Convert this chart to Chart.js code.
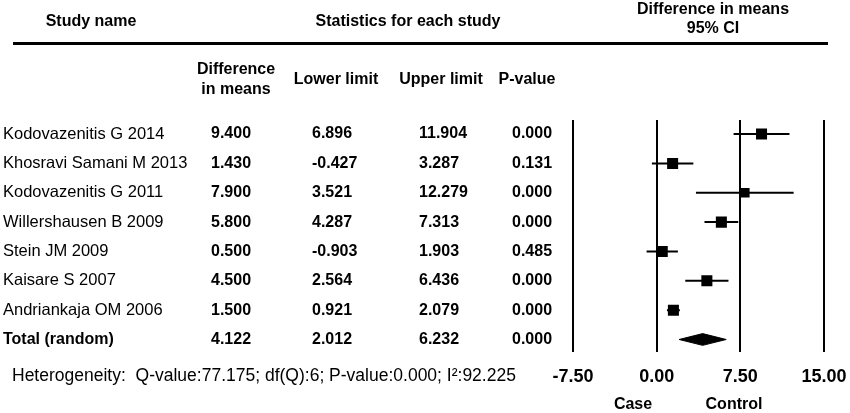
<!DOCTYPE html>
<html>
<head>
<meta charset="utf-8">
<script src="https://cdn.jsdelivr.net/npm/chart.js@4.4.1/dist/chart.umd.min.js"></script>
<style>
  html, body { margin: 0; padding: 0; background: #fff; }
</style>
</head>
<body>
<canvas id="forestChart" width="850" height="413"></canvas>
<script>
const studyNames = [
    "Kodovazenitis G 2014",
    "Khosravi Samani M 2013",
    "Kodovazenitis G 2011",
    "Willershausen B 2009",
    "Stein JM 2009",
    "Kaisare S 2007",
    "Andriankaja OM 2006"
];
const diffMeans = [9.400, 1.430, 7.900, 5.800, 0.500, 4.500, 1.500];
const lowerLimits = [6.896, -0.427, 3.521, 4.287, -0.903, 2.564, 0.921];
const upperLimits = [11.904, 3.287, 12.279, 7.313, 1.903, 6.436, 2.079];
const pValues = ["0.000", "0.131", "0.000", "0.000", "0.485", "0.000", "0.000"];

const totalName = "Total (random)";
const totalStats = [4.122, 2.012, 6.232];   // mean, lower, upper
const totalP = "0.000";

const xTicks = [-7.5, 0, 7.5, 15];
const heterogeneity = "Heterogeneity:  Q-value:77.175; df(Q):6; P-value:0.000; I\u00B2:92.225";

const FONT = '"Liberation Sans", Arial, sans-serif';
const totalRow = studyNames.length;

// one line per confidence interval
const ciSets = studyNames.map((name, i) => ({
    type: "line",
    data: [{ x: lowerLimits[i], y: i }, { x: upperLimits[i], y: i }],
    borderColor: "#000",
    borderWidth: 2,
    pointRadius: 0
}));

// summary diamond: upper half + lower half filled to it
const diamondTop = {
    type: "line",
    data: [
        { x: totalStats[1], y: totalRow },
        { x: totalStats[0], y: totalRow - 0.2 },
        { x: totalStats[2], y: totalRow }
    ],
    borderColor: "#000",
    borderWidth: 1,
    pointRadius: 0,
    tension: 0
};
const diamondBottom = {
    type: "line",
    data: [
        { x: totalStats[1], y: totalRow },
        { x: totalStats[0], y: totalRow + 0.2 },
        { x: totalStats[2], y: totalRow }
    ],
    borderColor: "#000",
    backgroundColor: "#000",
    borderWidth: 1,
    pointRadius: 0,
    tension: 0,
    fill: "-1"
};

const squares = {
    type: "scatter",
    data: diffMeans.map((d, i) => ({ x: d, y: i })),
    pointStyle: "rect",
    pointRadius: [7.8, 7.8, 6.8, 7.8, 7.8, 7.8, 7.8],
    backgroundColor: "#000",
    borderWidth: 0
};

const tableText = {
    id: "tableText",
    afterDraw(chart) {
        const ctx = chart.ctx;
        const ys = chart.scales.y;
        const bold = "bold 16px " + FONT;
        const normal = "16.5px " + FONT;
        ctx.save();
        ctx.fillStyle = "#000";
        ctx.textBaseline = "middle";

        // headers
        ctx.font = bold;
        ctx.textAlign = "center";
        ctx.fillText("Study name", 91, 22);
        ctx.fillText("Statistics for each study", 408, 22);
        ctx.fillText("Difference in means", 713, 10);
        ctx.fillText("95% CI", 713, 29);
        ctx.fillRect(13, 42, 815, 3);

        ctx.fillText("Difference", 236, 70);
        ctx.fillText("in means", 236, 90);
        ctx.fillText("Lower limit", 336, 80);
        ctx.fillText("Upper limit", 441, 80);
        ctx.fillText("P-value", 527, 80);

        // study rows
        ctx.textAlign = "left";
        studyNames.forEach((name, i) => {
            const py = ys.getPixelForValue(i);
            ctx.font = normal;
            ctx.fillText(name, 3, py);
            ctx.font = bold;
            ctx.fillText(diffMeans[i].toFixed(3), 211, py);
            ctx.fillText(lowerLimits[i].toFixed(3), 312, py);
            ctx.fillText(upperLimits[i].toFixed(3), 419, py);
            ctx.fillText(pValues[i], 512, py);
        });

        // total row
        const ty = ys.getPixelForValue(totalRow);
        ctx.font = bold;
        ctx.fillText(totalName, 3, ty);
        ctx.fillText(totalStats[0].toFixed(3), 211, ty);
        ctx.fillText(totalStats[1].toFixed(3), 312, ty);
        ctx.fillText(totalStats[2].toFixed(3), 419, ty);
        ctx.fillText(totalP, 512, ty);

        ctx.font = "17.5px " + FONT;
        ctx.fillText(heterogeneity, 12, 376);

        ctx.font = bold;
        ctx.textAlign = "center";
        ctx.fillText("Case", 633, 405);
        ctx.fillText("Control", 734, 405);
        ctx.restore();
    }
};

new Chart("forestChart", {
    type: "scatter",
    data: {
        datasets: [...ciSets, diamondTop, diamondBottom, squares]
    },
    options: {
        responsive: false,
        animation: false,
        layout: { padding: { left: 573, right: 26, top: 120, bottom: 11 } },
        plugins: {
            legend: { display: false },
            tooltip: { enabled: false }
        },
        scales: {
            x: {
                type: "linear",
                min: -7.5,
                max: 15,
                afterBuildTicks: axis => { axis.ticks = xTicks.map(v => ({ value: v })); },
                afterFit: axis => { axis.paddingLeft = 0; axis.paddingRight = 0; },
                grid: { color: "#000", lineWidth: 2, drawTicks: false },
                border: { display: false },
                ticks: {
                    color: "#000",
                    padding: 14,
                    font: { family: FONT, size: 18, weight: "bold" },
                    callback: v => v.toFixed(2)
                }
            },
            y: {
                type: "linear",
                min: -0.48,
                max: 7.44,
                reverse: true,
                display: false
            }
        }
    },
    plugins: [tableText]
});
</script>
</body>
</html>
